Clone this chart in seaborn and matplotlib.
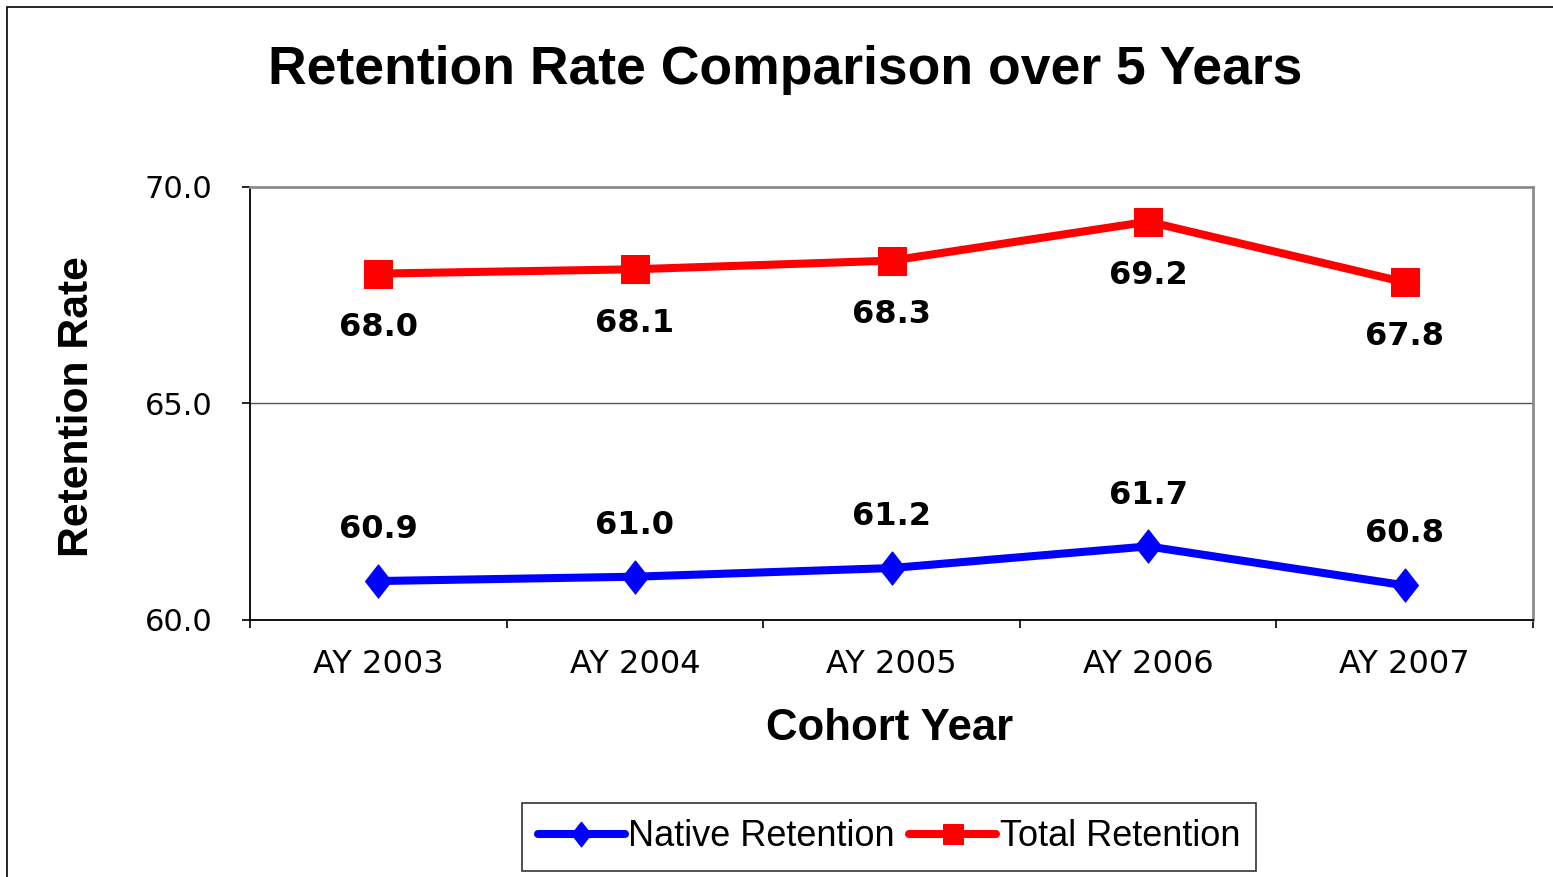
import numpy as np
import pandas as pd
import matplotlib
matplotlib.use("Agg")
import matplotlib.pyplot as plt
import seaborn as sns
from matplotlib.patches import Rectangle

# data
cohorts = ["AY 2003", "AY 2004", "AY 2005", "AY 2006", "AY 2007"]
native_retention = [60.9, 61.0, 61.2, 61.7, 60.8]
total_retention = [68.0, 68.1, 68.3, 69.2, 67.8]
y_ticks = [60.0, 65.0, 70.0]

sns.set_theme(style="white")
plt.rcParams["font.family"] = ["DejaVu Sans"]
plt.rcParams["text.color"] = "black"
plt.rcParams["xtick.color"] = "black"
plt.rcParams["ytick.color"] = "black"

fig = plt.figure(figsize=(15.53, 8.77), dpi=100)
ax = fig.add_axes([250 / 1553, 1 - 620 / 877, (1533 - 250) / 1553, (620 - 187) / 877])

pos = np.arange(len(cohorts))
df = pd.DataFrame({"pos": pos, "native": native_retention, "total": total_retention})

# tall diamond like the excel marker
diamond = [(0, 1), (0.78, 0), (0, -1), (-0.78, 0), (0, 1)]

sns.lineplot(data=df, x="pos", y="native", ax=ax, color="#0000FF", lw=5.8,
             marker=diamond, markersize=24, markeredgecolor="#0000FF",
             label="Native Retention")
sns.lineplot(data=df, x="pos", y="total", ax=ax, color="#FF0000", lw=5.8,
             marker="s", markersize=20, markeredgecolor="#FF0000",
             label="Total Retention")

# value labels: blue above, red below
for x, v in zip(pos, native_retention):
    ax.annotate(f"{v:.1f}", (x, v), xytext=(0, 37), textcoords="offset points",
                ha="center", va="center", fontsize=23, fontweight="bold")
for x, v in zip(pos, total_retention):
    ax.annotate(f"{v:.1f}", (x, v), xytext=(0, -39), textcoords="offset points",
                ha="center", va="center", fontsize=23, fontweight="bold")

ax.set_xlim(-0.5, len(cohorts) - 0.5)
ax.set_ylim(60, 70)
ax.set_yticks(y_ticks)
ax.set_yticklabels([f"{t:.1f}" for t in y_ticks])
ax.set_xticks(pos)
ax.set_xticklabels(cohorts)
ax.set_xticks(np.arange(-0.5, len(cohorts)), minor=True)
ax.tick_params(axis="x", which="major", length=0, pad=21, labelsize=23)
ax.tick_params(axis="x", which="minor", length=6, width=1.2, color="black", direction="out", bottom=True)
ax.tick_params(axis="y", length=6, width=1.2, color="black", direction="out", left=True, pad=21, labelsize=22)
ax.set_xlabel("")
ax.set_ylabel("")

ax.axhline(65, color="#555555", lw=1, zorder=0)
for s in ["top", "right"]:
    ax.spines[s].set_color("#8c8c8c")
    ax.spines[s].set_linewidth(2)
for s in ["left", "bottom"]:
    ax.spines[s].set_color("black")
    ax.spines[s].set_linewidth(1.3)

ax.get_legend().remove()
handles, labels = ax.get_legend_handles_labels()
leg = fig.legend(handles, labels, loc="center", bbox_to_anchor=(889 / 1553, 1 - 837 / 877),
                 ncol=2, frameon=True, fancybox=False, edgecolor="black",
                 prop={"family": "Liberation Sans", "size": 26}, handlelength=2.4,
                 handletextpad=0.1, columnspacing=0.4, markerscale=0.75,
                 borderpad=0.45)
leg.get_frame().set_linewidth(1.2)

fig.text(785 / 1553, 1 - 70 / 877, "Retention Rate Comparison over 5 Years",
         ha="center", va="center", fontsize=38.5, fontweight="bold", family="Liberation Sans")
fig.text(77 / 1553, 1 - 407 / 877, "Retention Rate", rotation=90,
         ha="center", va="center", fontsize=30.7, fontweight="bold", family="Liberation Sans")
fig.text(890 / 1553, 1 - 728 / 877, "Cohort Year",
         ha="center", va="center", fontsize=31.5, fontweight="bold", family="Liberation Sans")

fig.patches.append(Rectangle((7 / 1553, -0.1), 1.2, 1 - 7 / 877 + 0.1, transform=fig.transFigure,
                             fill=False, edgecolor="black", lw=1.2, figure=fig))

fig.savefig("out.png", dpi=100)
